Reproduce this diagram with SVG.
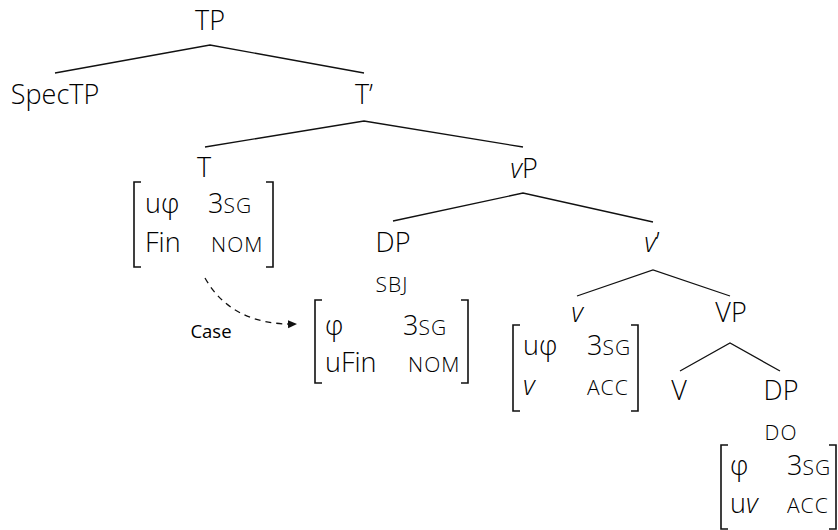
<svg xmlns="http://www.w3.org/2000/svg" width="838" height="530" viewBox="0 0 838 530">
  <style>
    text { font-family: "Open Sans", "Noto Sans", sans-serif; font-weight: 300; font-size: 27px; fill: #000; }
    .lbl { text-anchor: middle; }
    .sc { font-size: 21px; letter-spacing: 1px; }
    .it { font-style: italic; }
    .case { font-weight: 500; font-size: 18.5px; }
    .edge { stroke: #111; stroke-width: 1.3; fill: none; }
    .brk { stroke: #111; stroke-width: 1.6; fill: none; }
  </style>
  <defs>
    <marker id="tip" markerWidth="10" markerHeight="10" refX="9" refY="5" orient="auto" markerUnits="userSpaceOnUse">
      <path d="M0,1 L9,5 L0,9 Z" fill="#111"/>
    </marker>
  </defs>

  <!-- tree branches -->
  <g id="connectors">
    <path class="edge" d="M55,73 L210,45 L364,73"/>
    <path class="edge" d="M205,147 L364,121 L523,147"/>
    <path class="edge" d="M393,221 L523,193 L653,222"/>
    <path class="edge" d="M577,296 L653,270 L730,296"/>
    <path class="edge" d="M680,371 L730,343 L780,371"/>
    <path class="edge" d="M205,278 Q232,326 297,324" stroke-dasharray="6,5" marker-end="url(#tip)"/>
    <text class="case" x="211" y="338" text-anchor="middle">Case</text>
  </g>

  <g id="TP"><text class="lbl" x="210" y="30">TP</text></g>
  <g id="SpecTP"><text class="lbl" x="55" y="104">SpecTP</text></g>
  <g id="Tbar"><text class="lbl" x="364" y="104">T’</text></g>

  <g id="T">
    <text class="lbl" x="204" y="177">T</text>
    <path class="brk" d="M141,182 H134 V267 H141"/>
    <path class="brk" d="M266,182 H273 V267 H266"/>
    <text x="145" y="213">uφ</text>
    <text x="208" y="213">3<tspan class="sc">SG</tspan></text>
    <text x="145" y="252">Fin</text>
    <text x="211" y="252" class="sc">NOM</text>
  </g>

  <g id="vP"><text class="lbl" x="524" y="178"><tspan class="it">v</tspan>P</text></g>

  <g id="DP-subject">
    <text class="lbl" x="393" y="252">DP</text>
    <text class="lbl sc" x="392" y="292">SBJ</text>
    <path class="brk" d="M322,300 H315 V383 H322"/>
    <path class="brk" d="M461,300 H468 V383 H461"/>
    <text x="325" y="335">φ</text>
    <text x="403" y="335">3<tspan class="sc">SG</tspan></text>
    <text x="325" y="372">uFin</text>
    <text x="408" y="372" class="sc">NOM</text>
  </g>

  <g id="vbar"><text class="lbl" x="652" y="252"><tspan class="it">v</tspan>’</text></g>

  <g id="v">
    <text class="lbl it" x="577" y="322">v</text>
    <path class="brk" d="M520,325 H513 V411 H520"/>
    <path class="brk" d="M631,325 H638 V411 H631"/>
    <text x="523" y="355">uφ</text>
    <text x="587" y="355">3<tspan class="sc">SG</tspan></text>
    <text x="523" y="395" class="it">v</text>
    <text x="587" y="395" class="sc">ACC</text>
  </g>

  <g id="VP"><text class="lbl" x="731" y="322">VP</text></g>
  <g id="V"><text class="lbl" x="679" y="400">V</text></g>

  <g id="DP-object">
    <text class="lbl" x="781" y="400">DP</text>
    <text class="lbl sc" x="781" y="440">DO</text>
    <path class="brk" d="M728,445 H721 V529 H728"/>
    <path class="brk" d="M829,445 H836 V529 H829"/>
    <text x="730" y="475">φ</text>
    <text x="787" y="475">3<tspan class="sc">SG</tspan></text>
    <text x="730" y="513">u<tspan class="it">v</tspan></text>
    <text x="787" y="513" class="sc">ACC</text>
  </g>
</svg>
